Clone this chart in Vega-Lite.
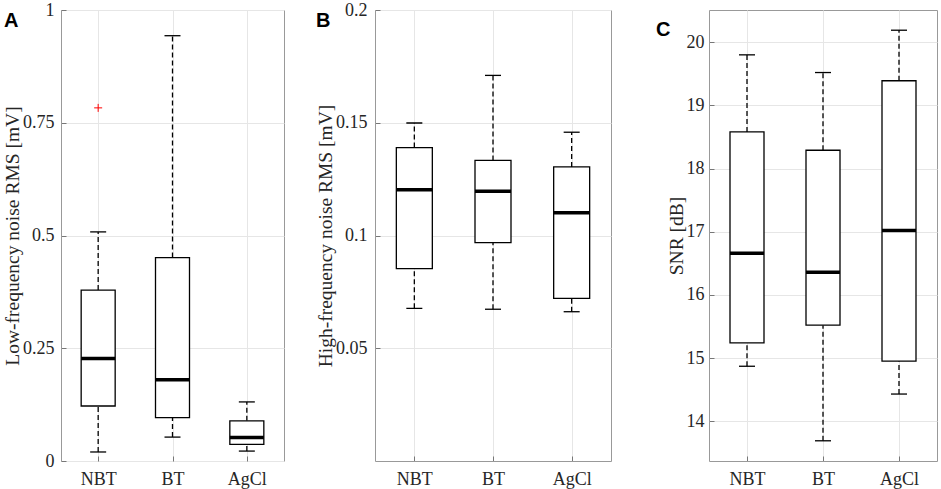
{
  "$schema": "https://vega.github.io/schema/vega-lite/v6.json",
  "padding": {"left": 2, "top": 0, "right": 0, "bottom": 0},
  "background": "white",
  "datasets": {
    "lf": [
      {"electrode": "NBT", "lower": 0.02, "q1": 0.122, "median": 0.227, "q3": 0.379, "upper": 0.508},
      {"electrode": "BT", "lower": 0.053, "q1": 0.096, "median": 0.18, "q3": 0.451, "upper": 0.943},
      {"electrode": "AgCl", "lower": 0.022, "q1": 0.037, "median": 0.052, "q3": 0.089, "upper": 0.131}
    ],
    "lfOut": [
      {"electrode": "NBT", "value": 0.783}
    ],
    "hf": [
      {"electrode": "NBT", "lower": 0.0677, "q1": 0.0853, "median": 0.1203, "q3": 0.139, "upper": 0.1499},
      {"electrode": "BT", "lower": 0.0673, "q1": 0.0968, "median": 0.1196, "q3": 0.1333, "upper": 0.171},
      {"electrode": "AgCl", "lower": 0.0662, "q1": 0.0721, "median": 0.1101, "q3": 0.1304, "upper": 0.1458}
    ],
    "snr": [
      {"electrode": "NBT", "lower": 14.87, "q1": 15.24, "median": 16.66, "q3": 18.58, "upper": 19.8},
      {"electrode": "BT", "lower": 13.69, "q1": 15.52, "median": 16.36, "q3": 18.29, "upper": 19.52},
      {"electrode": "AgCl", "lower": 14.43, "q1": 14.95, "median": 17.02, "q3": 19.39, "upper": 20.19}
    ]
  },
  "bounds": "flush",
  "spacing": 91,
  "hconcat": [
    {
      "width": 223,
      "height": 451,
      "title": {"text": "A", "dx": -57},
      "data": {"name": "lf"},
      "encoding": {
        "x": {
          "field": "electrode", "type": "nominal", "sort": ["NBT", "BT", "AgCl"],
          "scale": {"type": "point", "padding": 0.5},
          "axis": {"title": null}
        }
      },
      "layer": [
        {
          "mark": {"type": "rule", "color": "black", "strokeWidth": 1.3, "strokeDash": [5, 3]},
          "encoding": {
            "y": {"field": "lower", "type": "quantitative", "title": "Low-frequency noise RMS [mV]",
              "scale": {"domain": [0, 1], "nice": false, "zero": false},
              "axis": {"values": [0, 0.25, 0.5, 0.75, 1], "format": ".2~f"}},
            "y2": {"field": "q1"}
          }
        },
        {
          "mark": {"type": "rule", "color": "black", "strokeWidth": 1.3, "strokeDash": [5, 3]},
          "encoding": {
            "y": {"field": "q3", "type": "quantitative", "title": "Low-frequency noise RMS [mV]"},
            "y2": {"field": "upper"}
          }
        },
        {
          "mark": {"type": "bar", "size": 34, "fill": "white", "stroke": "black", "strokeWidth": 1.3, "opacity": 1},
          "encoding": {
            "y": {"field": "q1", "type": "quantitative", "title": "Low-frequency noise RMS [mV]"},
            "y2": {"field": "q3"}
          }
        },
        {
          "mark": {"type": "tick", "size": 34, "thickness": 3.5, "color": "black", "opacity": 1},
          "encoding": {
            "y": {"field": "median", "type": "quantitative", "title": "Low-frequency noise RMS [mV]"}
          }
        },
        {
          "mark": {"type": "tick", "size": 16, "thickness": 1.3, "color": "black", "opacity": 1},
          "encoding": {
            "y": {"field": "lower", "type": "quantitative", "title": "Low-frequency noise RMS [mV]"}
          }
        },
        {
          "mark": {"type": "tick", "size": 16, "thickness": 1.3, "color": "black", "opacity": 1},
          "encoding": {
            "y": {"field": "upper", "type": "quantitative", "title": "Low-frequency noise RMS [mV]"}
          }
        },
        {
          "data": {"name": "lfOut"},
          "mark": {"type": "point", "shape": "M-1,0H1M0,-1V1", "filled": false, "stroke": "red", "strokeWidth": 1, "size": 64, "opacity": 1},
          "encoding": {
            "y": {"field": "value", "type": "quantitative", "title": "Low-frequency noise RMS [mV]"}
          }
        }
      ]
    },
    {
      "bounds": "flush",
      "spacing": 98,
      "hconcat": [
        {
          "width": 236,
          "height": 451,
          "title": {"text": "B", "dx": -59},
          "data": {"name": "hf"},
          "encoding": {
            "x": {
              "field": "electrode", "type": "nominal", "sort": ["NBT", "BT", "AgCl"],
              "scale": {"type": "point", "padding": 0.5},
              "axis": {"title": null}
            }
          },
          "layer": [
            {
              "mark": {"type": "rule", "color": "black", "strokeWidth": 1.3, "strokeDash": [5, 3]},
              "encoding": {
                "y": {"field": "lower", "type": "quantitative", "title": "High-frequency noise RMS [mV]",
                  "scale": {"domain": [0, 0.2], "nice": false, "zero": false},
                  "axis": {"values": [0.05, 0.1, 0.15, 0.2], "format": ".2~f", "labelPadding": 13}},
                "y2": {"field": "q1"}
              }
            },
            {
              "mark": {"type": "rule", "color": "black", "strokeWidth": 1.3, "strokeDash": [5, 3]},
              "encoding": {
                "y": {"field": "q3", "type": "quantitative", "title": "High-frequency noise RMS [mV]"},
                "y2": {"field": "upper"}
              }
            },
            {
              "mark": {"type": "bar", "size": 36, "fill": "white", "stroke": "black", "strokeWidth": 1.3, "opacity": 1},
              "encoding": {
                "y": {"field": "q1", "type": "quantitative", "title": "High-frequency noise RMS [mV]"},
                "y2": {"field": "q3"}
              }
            },
            {
              "mark": {"type": "tick", "size": 36, "thickness": 3.5, "color": "black", "opacity": 1},
              "encoding": {
                "y": {"field": "median", "type": "quantitative", "title": "High-frequency noise RMS [mV]"}
              }
            },
            {
              "mark": {"type": "tick", "size": 16, "thickness": 1.3, "color": "black", "opacity": 1},
              "encoding": {
                "y": {"field": "lower", "type": "quantitative", "title": "High-frequency noise RMS [mV]"}
              }
            },
            {
              "mark": {"type": "tick", "size": 16, "thickness": 1.3, "color": "black", "opacity": 1},
              "encoding": {
                "y": {"field": "upper", "type": "quantitative", "title": "High-frequency noise RMS [mV]"}
              }
            }
          ]
        },
        {
          "width": 228,
          "height": 451,
          "title": {"text": "C", "dx": -53},
          "data": {"name": "snr"},
          "encoding": {
            "x": {
              "field": "electrode", "type": "nominal", "sort": ["NBT", "BT", "AgCl"],
              "scale": {"type": "point", "padding": 0.5},
              "axis": {"title": null}
            }
          },
          "layer": [
            {
              "mark": {"type": "rule", "color": "black", "strokeWidth": 1.3, "strokeDash": [5, 3]},
              "encoding": {
                "y": {"field": "lower", "type": "quantitative", "title": "SNR [dB]",
                  "scale": {"domain": [13.37, 20.51], "nice": false, "zero": false},
                  "axis": {"values": [14, 15, 16, 17, 18, 19, 20], "format": "d", "labelPadding": 10}},
                "y2": {"field": "q1"}
              }
            },
            {
              "mark": {"type": "rule", "color": "black", "strokeWidth": 1.3, "strokeDash": [5, 3]},
              "encoding": {
                "y": {"field": "q3", "type": "quantitative", "title": "SNR [dB]"},
                "y2": {"field": "upper"}
              }
            },
            {
              "mark": {"type": "bar", "size": 34, "fill": "white", "stroke": "black", "strokeWidth": 1.3, "opacity": 1},
              "encoding": {
                "y": {"field": "q1", "type": "quantitative", "title": "SNR [dB]"},
                "y2": {"field": "q3"}
              }
            },
            {
              "mark": {"type": "tick", "size": 34, "thickness": 3.5, "color": "black", "opacity": 1},
              "encoding": {
                "y": {"field": "median", "type": "quantitative", "title": "SNR [dB]"}
              }
            },
            {
              "mark": {"type": "tick", "size": 16, "thickness": 1.3, "color": "black", "opacity": 1},
              "encoding": {
                "y": {"field": "lower", "type": "quantitative", "title": "SNR [dB]"}
              }
            },
            {
              "mark": {"type": "tick", "size": 16, "thickness": 1.3, "color": "black", "opacity": 1},
              "encoding": {
                "y": {"field": "upper", "type": "quantitative", "title": "SNR [dB]"}
              }
            }
          ]
        }
      ]
    }
  ],
  "config": {
    "font": "Liberation Serif",
    "view": {"stroke": "#999999", "strokeWidth": 1},
    "axis": {
      "labelFont": "Liberation Serif",
      "labelFontSize": 18,
      "labelColor": "#262626",
      "titleFont": "Liberation Serif",
      "titleFontSize": 19.5,
      "titleFontWeight": "normal",
      "titleColor": "#262626",
      "grid": true,
      "gridColor": "#e6e6e6",
      "domain": false,
      "ticks": true,
      "tickSize": -5,
      "tickColor": "#777777",
      "labelPadding": 12,
      "titlePadding": 0
    },
    "axisX": {"labelAngle": 0, "labelPadding": 14},
    "title": {
      "font": "Liberation Sans",
      "fontSize": 20,
      "fontWeight": "bold",
      "color": "black",
      "anchor": "start",
      "frame": "group",
      "baseline": "alphabetic",
      "offset": 0,
      "dy": 34
    }
  }
}
